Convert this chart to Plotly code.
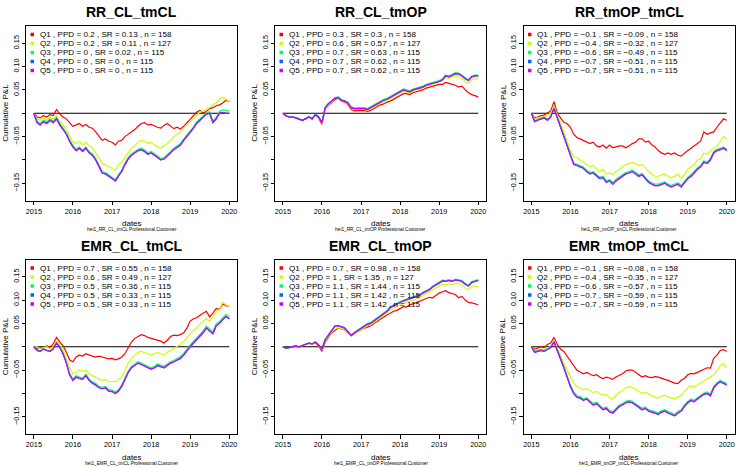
import plotly.graph_objects as go
import pandas as pd

# ---------------- data ----------------
months = pd.date_range("2015-01-01", "2020-01-01", freq="MS").strftime("%Y-%m-%d").tolist()
year_labels = ["2015", "2016", "2017", "2018", "2019", "2020"]
y_tick_vals = [-0.15, -0.10, -0.05, 0.0, 0.05, 0.10, 0.15]
y_tick_text = ["\u22120.15", "", "\u22120.05", "", "0.05", "0.10", "0.15"]

titles = ["RR_CL_tmCL", "RR_CL_tmOP", "RR_tmOP_tmCL", "EMR_CL_tmCL", "EMR_CL_tmOP", "EMR_tmOP_tmCL"]
quantiles = ["Q1", "Q2", "Q3", "Q4", "Q5"]
n_obs = [158, 127, 115, 115, 115]
ppd = [
    ["0.2", "0.2", "0", "0", "0"],
    ["0.3", "0.6", "0.7", "0.7", "0.7"],
    ["\u22120.1", "\u22120.4", "\u22120.6", "\u22120.7", "\u22120.7"],
    ["0.7", "0.6", "0.5", "0.5", "0.5"],
    ["0.7", "1", "1.1", "1.1", "1.1"],
    ["\u22120.1", "\u22120.4", "\u22120.6", "\u22120.7", "\u22120.7"],
]
sr = [
    ["0.13", "0.11", "0.02", "0", "0"],
    ["0.3", "0.57", "0.63", "0.62", "0.62"],
    ["\u22120.09", "\u22120.32", "\u22120.49", "\u22120.51", "\u22120.51"],
    ["0.55", "0.49", "0.36", "0.33", "0.33"],
    ["0.98", "1.35", "1.44", "1.42", "1.42"],
    ["\u22120.08", "\u22120.35", "\u22120.57", "\u22120.59", "\u22120.59"],
]

# Panel 1: RR_CL_tmCL
rr_cl_tmcl_q1 = [0.000, -0.008, -0.010, -0.005, -0.008, -0.003, -0.005, 0.008, -0.002, -0.008,
                 -0.012, -0.020, -0.028, -0.025, -0.022, -0.028, -0.024, -0.030, -0.032, -0.040,
                 -0.050, -0.058, -0.055, -0.060, -0.062, -0.068, -0.060, -0.058, -0.050, -0.045,
                 -0.040, -0.035, -0.028, -0.022, -0.020, -0.025, -0.024, -0.028, -0.030, -0.032,
                 -0.026, -0.022, -0.028, -0.033, -0.030, -0.034, -0.028, -0.020, -0.012, -0.004,
                 0.002, 0.006, 0.000, 0.004, 0.010, 0.012, 0.016, 0.018, 0.022, 0.028, 0.025]
rr_cl_tmcl_q2 = [0.000, -0.012, -0.015, -0.010, -0.015, -0.008, -0.012, -0.005, -0.018, -0.025,
                 -0.035, -0.050, -0.062, -0.065, -0.060, -0.068, -0.062, -0.070, -0.075, -0.085,
                 -0.098, -0.108, -0.110, -0.115, -0.118, -0.122, -0.110, -0.105, -0.095, -0.085,
                 -0.075, -0.070, -0.062, -0.058, -0.060, -0.065, -0.062, -0.068, -0.072, -0.075,
                 -0.070, -0.065, -0.058, -0.050, -0.045, -0.040, -0.032, -0.025, -0.020, -0.012,
                 -0.005, 0.002, 0.005, 0.008, 0.012, 0.018, 0.022, 0.030, 0.035, 0.030, 0.025]
rr_cl_tmcl_q3 = [0.000, -0.017, -0.022, -0.015, -0.019, -0.012, -0.017, -0.009, -0.022, -0.032,
                 -0.042, -0.057, -0.069, -0.077, -0.072, -0.079, -0.072, -0.082, -0.087, -0.097,
                 -0.112, -0.125, -0.127, -0.132, -0.137, -0.142, -0.132, -0.122, -0.107, -0.095,
                 -0.087, -0.082, -0.077, -0.075, -0.079, -0.085, -0.082, -0.087, -0.092, -0.097,
                 -0.095, -0.089, -0.082, -0.075, -0.069, -0.065, -0.055, -0.047, -0.039, -0.029,
                 -0.019, -0.012, -0.005, 0.001, 0.003, -0.017, -0.009, 0.004, 0.007, 0.006, 0.005]
rr_cl_tmcl_q4 = [0.000, -0.020, -0.025, -0.018, -0.022, -0.015, -0.020, -0.012, -0.025, -0.035,
                 -0.045, -0.060, -0.072, -0.080, -0.075, -0.082, -0.075, -0.085, -0.090, -0.100,
                 -0.115, -0.128, -0.130, -0.135, -0.140, -0.145, -0.135, -0.125, -0.110, -0.098,
                 -0.090, -0.085, -0.080, -0.078, -0.082, -0.088, -0.085, -0.090, -0.095, -0.100,
                 -0.098, -0.092, -0.085, -0.078, -0.072, -0.068, -0.058, -0.050, -0.042, -0.032,
                 -0.022, -0.015, -0.008, -0.002, 0.000, -0.020, -0.012, 0.000, 0.002, 0.000, 0.000]
rr_cl_tmcl_q5 = [0.000, -0.020, -0.025, -0.018, -0.022, -0.015, -0.020, -0.012, -0.025, -0.035,
                 -0.045, -0.060, -0.072, -0.080, -0.075, -0.082, -0.075, -0.085, -0.090, -0.100,
                 -0.115, -0.128, -0.130, -0.135, -0.140, -0.145, -0.135, -0.125, -0.110, -0.098,
                 -0.090, -0.085, -0.080, -0.078, -0.082, -0.088, -0.085, -0.090, -0.095, -0.100,
                 -0.098, -0.092, -0.085, -0.078, -0.072, -0.068, -0.058, -0.050, -0.042, -0.032,
                 -0.022, -0.015, -0.008, -0.002, 0.000, -0.020, -0.012, 0.000, 0.002, 0.000, 0.000]

# Panel 2: RR_CL_tmOP
rr_cl_tmop_q1 = [0.000, -0.006, -0.008, -0.008, -0.010, -0.012, -0.015, -0.012, -0.008, -0.012,
                 -0.004, -0.010, -0.024, 0.010, 0.017, 0.023, 0.029, 0.032, 0.026, 0.024,
                 0.018, 0.008, 0.005, 0.005, 0.005, 0.006, 0.004, 0.006, 0.010, 0.014,
                 0.018, 0.020, 0.024, 0.026, 0.030, 0.034, 0.038, 0.042, 0.042, 0.040,
                 0.044, 0.046, 0.048, 0.050, 0.054, 0.056, 0.058, 0.060, 0.062, 0.062,
                 0.066, 0.064, 0.062, 0.060, 0.056, 0.058, 0.050, 0.044, 0.040, 0.038, 0.035]
rr_cl_tmop_q2 = [0.000, -0.006, -0.008, -0.008, -0.010, -0.012, -0.015, -0.012, -0.008, -0.012,
                 -0.003, -0.009, -0.022, 0.011, 0.018, 0.025, 0.031, 0.033, 0.027, 0.025,
                 0.020, 0.010, 0.008, 0.008, 0.008, 0.008, 0.006, 0.010, 0.013, 0.017,
                 0.021, 0.025, 0.027, 0.031, 0.035, 0.039, 0.042, 0.047, 0.045, 0.044,
                 0.048, 0.050, 0.052, 0.054, 0.058, 0.060, 0.062, 0.064, 0.066, 0.069,
                 0.076, 0.074, 0.078, 0.080, 0.078, 0.074, 0.068, 0.064, 0.072, 0.074, 0.073]
rr_cl_tmop_q3 = [0.000, -0.005, -0.007, -0.007, -0.009, -0.011, -0.014, -0.011, -0.007, -0.011,
                 -0.002, -0.007, -0.019, 0.013, 0.021, 0.027, 0.033, 0.035, 0.029, 0.027,
                 0.023, 0.013, 0.011, 0.012, 0.012, 0.012, 0.010, 0.014, 0.018, 0.022,
                 0.026, 0.030, 0.032, 0.036, 0.040, 0.044, 0.047, 0.052, 0.050, 0.048,
                 0.052, 0.054, 0.056, 0.058, 0.062, 0.064, 0.066, 0.068, 0.070, 0.074,
                 0.082, 0.080, 0.084, 0.087, 0.086, 0.082, 0.076, 0.072, 0.080, 0.082, 0.082]
rr_cl_tmop_q4 = [0.000, -0.006, -0.008, -0.008, -0.010, -0.012, -0.015, -0.012, -0.008, -0.012,
                 -0.003, -0.008, -0.020, 0.012, 0.020, 0.026, 0.032, 0.034, 0.028, 0.026,
                 0.022, 0.012, 0.010, 0.010, 0.010, 0.010, 0.008, 0.012, 0.016, 0.020,
                 0.024, 0.028, 0.030, 0.034, 0.038, 0.042, 0.045, 0.050, 0.048, 0.046,
                 0.050, 0.052, 0.054, 0.056, 0.060, 0.062, 0.064, 0.066, 0.068, 0.072,
                 0.080, 0.078, 0.082, 0.085, 0.084, 0.080, 0.074, 0.070, 0.078, 0.080, 0.080]
rr_cl_tmop_q5 = [0.000, -0.006, -0.008, -0.008, -0.010, -0.012, -0.015, -0.012, -0.008, -0.012,
                 -0.003, -0.008, -0.020, 0.012, 0.020, 0.026, 0.032, 0.034, 0.028, 0.026,
                 0.022, 0.012, 0.010, 0.010, 0.010, 0.010, 0.008, 0.012, 0.016, 0.020,
                 0.024, 0.028, 0.030, 0.034, 0.038, 0.042, 0.045, 0.050, 0.048, 0.046,
                 0.050, 0.052, 0.054, 0.056, 0.060, 0.062, 0.064, 0.066, 0.068, 0.072,
                 0.080, 0.078, 0.082, 0.085, 0.084, 0.080, 0.074, 0.070, 0.078, 0.080, 0.080]

# Panel 3: RR_tmOP_tmCL
rr_tmop_tmcl_q1 = [0.000, -0.010, -0.008, -0.005, -0.004, 0.000, 0.005, 0.025, 0.000, -0.010,
                   -0.020, -0.022, -0.030, -0.045, -0.052, -0.055, -0.058, -0.062, -0.065, -0.062,
                   -0.070, -0.072, -0.068, -0.075, -0.068, -0.074, -0.072, -0.070, -0.070, -0.074,
                   -0.070, -0.065, -0.062, -0.055, -0.055, -0.062, -0.060, -0.068, -0.072, -0.080,
                   -0.085, -0.088, -0.085, -0.088, -0.085, -0.090, -0.092, -0.085, -0.080, -0.075,
                   -0.070, -0.065, -0.060, -0.040, -0.045, -0.042, -0.040, -0.030, -0.020, -0.012, -0.015]
rr_tmop_tmcl_q2 = [0.000, -0.012, -0.010, -0.008, -0.006, -0.005, 0.000, 0.015, -0.005, -0.020,
                   -0.040, -0.060, -0.080, -0.092, -0.095, -0.100, -0.105, -0.110, -0.115, -0.112,
                   -0.118, -0.125, -0.120, -0.130, -0.128, -0.132, -0.125, -0.120, -0.115, -0.110,
                   -0.108, -0.105, -0.108, -0.112, -0.110, -0.118, -0.125, -0.130, -0.135, -0.135,
                   -0.132, -0.130, -0.135, -0.138, -0.135, -0.130, -0.140, -0.132, -0.120, -0.115,
                   -0.110, -0.100, -0.098, -0.085, -0.088, -0.080, -0.075, -0.070, -0.060, -0.050, -0.055]
rr_tmop_tmcl_q3 = [0.000, -0.016, -0.013, -0.010, -0.008, -0.013, -0.006, 0.012, -0.008, -0.027,
                   -0.047, -0.067, -0.087, -0.107, -0.109, -0.112, -0.115, -0.122, -0.127, -0.125,
                   -0.132, -0.137, -0.135, -0.145, -0.142, -0.149, -0.142, -0.137, -0.132, -0.127,
                   -0.125, -0.122, -0.127, -0.132, -0.129, -0.137, -0.145, -0.149, -0.152, -0.152,
                   -0.149, -0.147, -0.152, -0.155, -0.152, -0.149, -0.155, -0.147, -0.137, -0.132,
                   -0.125, -0.117, -0.112, -0.102, -0.105, -0.097, -0.082, -0.077, -0.075, -0.072, -0.077]
rr_tmop_tmcl_q4 = [0.000, -0.018, -0.015, -0.012, -0.010, -0.015, -0.008, 0.010, -0.010, -0.030,
                   -0.050, -0.070, -0.090, -0.110, -0.112, -0.115, -0.118, -0.125, -0.130, -0.128,
                   -0.135, -0.140, -0.138, -0.148, -0.145, -0.152, -0.145, -0.140, -0.135, -0.130,
                   -0.128, -0.125, -0.130, -0.135, -0.132, -0.140, -0.148, -0.152, -0.155, -0.155,
                   -0.152, -0.150, -0.155, -0.158, -0.155, -0.152, -0.158, -0.150, -0.140, -0.135,
                   -0.128, -0.120, -0.115, -0.105, -0.108, -0.100, -0.085, -0.080, -0.078, -0.075, -0.080]
rr_tmop_tmcl_q5 = [0.000, -0.018, -0.015, -0.012, -0.010, -0.015, -0.008, 0.010, -0.010, -0.030,
                   -0.050, -0.070, -0.090, -0.110, -0.112, -0.115, -0.118, -0.125, -0.130, -0.128,
                   -0.135, -0.140, -0.138, -0.148, -0.145, -0.152, -0.145, -0.140, -0.135, -0.130,
                   -0.128, -0.125, -0.130, -0.135, -0.132, -0.140, -0.148, -0.152, -0.155, -0.155,
                   -0.152, -0.150, -0.155, -0.158, -0.155, -0.152, -0.158, -0.150, -0.140, -0.135,
                   -0.128, -0.120, -0.115, -0.105, -0.108, -0.100, -0.085, -0.080, -0.078, -0.075, -0.080]

# Panel 4: EMR_CL_tmCL
emr_cl_tmcl_q1 = [0.000, -0.005, -0.002, -0.004, 0.002, -0.002, 0.006, 0.020, 0.010, 0.002,
                  -0.012, -0.028, -0.032, -0.022, -0.018, -0.020, -0.015, -0.018, -0.020, -0.022,
                  -0.020, -0.022, -0.024, -0.026, -0.025, -0.028, -0.026, -0.022, -0.015, -0.002,
                  0.010, 0.018, 0.022, 0.026, 0.024, 0.020, 0.018, 0.016, 0.014, 0.012,
                  0.008, 0.014, 0.022, 0.025, 0.024, 0.026, 0.030, 0.040, 0.055, 0.060,
                  0.062, 0.068, 0.072, 0.076, 0.064, 0.072, 0.082, 0.080, 0.092, 0.088, 0.086]
emr_cl_tmcl_q2 = [0.000, 0.000, -0.005, -0.002, 0.000, -0.005, 0.000, 0.012, 0.005, -0.005,
                  -0.025, -0.045, -0.058, -0.055, -0.050, -0.052, -0.050, -0.058, -0.062, -0.065,
                  -0.070, -0.072, -0.070, -0.075, -0.074, -0.075, -0.070, -0.065, -0.050, -0.035,
                  -0.025, -0.018, -0.012, -0.010, -0.012, -0.015, -0.018, -0.015, -0.012, -0.015,
                  -0.018, -0.012, -0.008, -0.005, 0.000, 0.005, 0.012, 0.020, 0.028, 0.035,
                  0.040, 0.048, 0.055, 0.060, 0.055, 0.065, 0.075, 0.080, 0.095, 0.090, 0.085]
emr_cl_tmcl_q3 = [0.000, -0.007, -0.009, -0.004, -0.007, -0.009, -0.004, 0.009, 0.000, -0.013,
                  -0.033, -0.057, -0.069, -0.062, -0.065, -0.067, -0.059, -0.069, -0.075, -0.079,
                  -0.085, -0.087, -0.085, -0.092, -0.093, -0.097, -0.092, -0.082, -0.067, -0.052,
                  -0.042, -0.037, -0.032, -0.035, -0.039, -0.042, -0.045, -0.042, -0.037, -0.039,
                  -0.042, -0.037, -0.032, -0.029, -0.025, -0.021, -0.014, -0.004, 0.004, 0.012,
                  0.019, 0.026, 0.034, 0.044, 0.039, 0.032, 0.049, 0.054, 0.062, 0.069, 0.065]
emr_cl_tmcl_q4 = [0.000, -0.008, -0.010, -0.005, -0.008, -0.010, -0.005, 0.008, -0.002, -0.015,
                  -0.035, -0.060, -0.072, -0.065, -0.068, -0.070, -0.062, -0.072, -0.078, -0.082,
                  -0.088, -0.090, -0.088, -0.095, -0.096, -0.100, -0.095, -0.085, -0.070, -0.055,
                  -0.045, -0.040, -0.035, -0.038, -0.042, -0.045, -0.048, -0.045, -0.040, -0.042,
                  -0.045, -0.040, -0.035, -0.032, -0.028, -0.025, -0.018, -0.008, 0.000, 0.008,
                  0.015, 0.022, 0.030, 0.040, 0.035, 0.028, 0.045, 0.050, 0.058, 0.065, 0.060]
emr_cl_tmcl_q5 = [0.000, -0.008, -0.010, -0.005, -0.008, -0.010, -0.005, 0.008, -0.002, -0.015,
                  -0.035, -0.060, -0.072, -0.065, -0.068, -0.070, -0.062, -0.072, -0.078, -0.082,
                  -0.088, -0.090, -0.088, -0.095, -0.096, -0.100, -0.095, -0.085, -0.070, -0.055,
                  -0.045, -0.040, -0.035, -0.038, -0.042, -0.045, -0.048, -0.045, -0.040, -0.042,
                  -0.045, -0.040, -0.035, -0.032, -0.028, -0.025, -0.018, -0.008, 0.000, 0.008,
                  0.015, 0.022, 0.030, 0.040, 0.035, 0.028, 0.045, 0.050, 0.058, 0.065, 0.060]

# Panel 5: EMR_CL_tmOP
emr_cl_tmop_q1 = [0.000, -0.003, -0.002, 0.000, 0.002, 0.000, 0.003, 0.005, 0.007, 0.005,
                  0.008, 0.002, -0.010, 0.010, 0.020, 0.030, 0.035, 0.040, 0.038, 0.036,
                  0.030, 0.024, 0.028, 0.032, 0.036, 0.040, 0.042, 0.045, 0.050, 0.055,
                  0.060, 0.064, 0.068, 0.072, 0.076, 0.078, 0.082, 0.086, 0.085, 0.090,
                  0.092, 0.095, 0.098, 0.100, 0.104, 0.106, 0.105, 0.110, 0.115, 0.118,
                  0.120, 0.116, 0.114, 0.112, 0.105, 0.108, 0.100, 0.095, 0.094, 0.092, 0.090]
emr_cl_tmop_q2 = [0.000, -0.003, -0.002, 0.000, 0.002, 0.000, 0.003, 0.005, 0.007, 0.005,
                  0.009, 0.003, -0.007, 0.012, 0.022, 0.032, 0.038, 0.041, 0.038, 0.036,
                  0.031, 0.024, 0.027, 0.032, 0.037, 0.041, 0.045, 0.047, 0.052, 0.057,
                  0.062, 0.067, 0.072, 0.079, 0.083, 0.087, 0.090, 0.093, 0.095, 0.098,
                  0.101, 0.103, 0.105, 0.110, 0.113, 0.117, 0.122, 0.126, 0.130, 0.134,
                  0.133, 0.135, 0.133, 0.136, 0.135, 0.132, 0.126, 0.122, 0.130, 0.130, 0.128]
emr_cl_tmop_q3 = [0.000, -0.003, -0.002, 0.000, 0.002, 0.000, 0.003, 0.005, 0.008, 0.006,
                  0.010, 0.004, -0.005, 0.016, 0.026, 0.036, 0.045, 0.046, 0.043, 0.041,
                  0.033, 0.025, 0.031, 0.036, 0.042, 0.046, 0.050, 0.052, 0.057, 0.062,
                  0.067, 0.072, 0.078, 0.086, 0.090, 0.094, 0.097, 0.100, 0.102, 0.105,
                  0.108, 0.110, 0.112, 0.117, 0.120, 0.124, 0.130, 0.134, 0.138, 0.143,
                  0.142, 0.144, 0.142, 0.145, 0.144, 0.142, 0.136, 0.132, 0.140, 0.142, 0.144]
emr_cl_tmop_q4 = [0.000, -0.003, -0.002, 0.000, 0.002, 0.000, 0.003, 0.005, 0.008, 0.006,
                  0.010, 0.004, -0.005, 0.015, 0.025, 0.035, 0.044, 0.045, 0.042, 0.040,
                  0.032, 0.024, 0.030, 0.035, 0.040, 0.044, 0.048, 0.050, 0.055, 0.060,
                  0.065, 0.070, 0.076, 0.084, 0.088, 0.092, 0.095, 0.098, 0.100, 0.103,
                  0.106, 0.108, 0.110, 0.115, 0.118, 0.122, 0.128, 0.132, 0.136, 0.141,
                  0.140, 0.142, 0.140, 0.143, 0.142, 0.140, 0.134, 0.130, 0.138, 0.140, 0.142]
emr_cl_tmop_q5 = [0.000, -0.003, -0.002, 0.000, 0.002, 0.000, 0.003, 0.005, 0.008, 0.006,
                  0.010, 0.004, -0.005, 0.015, 0.025, 0.035, 0.044, 0.045, 0.042, 0.040,
                  0.032, 0.024, 0.030, 0.035, 0.040, 0.044, 0.048, 0.050, 0.055, 0.060,
                  0.065, 0.070, 0.076, 0.084, 0.088, 0.092, 0.095, 0.098, 0.100, 0.103,
                  0.106, 0.108, 0.110, 0.115, 0.118, 0.122, 0.128, 0.132, 0.136, 0.141,
                  0.140, 0.142, 0.140, 0.143, 0.142, 0.140, 0.134, 0.130, 0.138, 0.140, 0.142]

# Panel 6: EMR_tmOP_tmCL
emr_tmop_tmcl_q1 = [0.000, -0.005, -0.003, 0.000, -0.002, 0.005, 0.008, 0.020, 0.005, -0.005,
                    -0.010, -0.020, -0.030, -0.040, -0.050, -0.054, -0.058, -0.055, -0.058, -0.062,
                    -0.060, -0.065, -0.068, -0.065, -0.067, -0.070, -0.065, -0.062, -0.058, -0.052,
                    -0.050, -0.050, -0.055, -0.060, -0.065, -0.062, -0.065, -0.066, -0.064, -0.065,
                    -0.068, -0.070, -0.072, -0.075, -0.078, -0.079, -0.072, -0.068, -0.060, -0.057,
                    -0.058, -0.055, -0.052, -0.048, -0.045, -0.046, -0.025, -0.018, -0.008, -0.006, -0.010]
emr_tmop_tmcl_q2 = [0.000, -0.008, -0.006, -0.004, -0.005, -0.002, 0.000, 0.012, -0.005, -0.020,
                    -0.035, -0.050, -0.065, -0.078, -0.085, -0.088, -0.092, -0.090, -0.094, -0.098,
                    -0.096, -0.100, -0.104, -0.102, -0.110, -0.112, -0.104, -0.098, -0.094, -0.088,
                    -0.085, -0.088, -0.090, -0.096, -0.100, -0.098, -0.102, -0.105, -0.108, -0.110,
                    -0.106, -0.104, -0.108, -0.110, -0.112, -0.108, -0.104, -0.096, -0.088, -0.084,
                    -0.086, -0.082, -0.078, -0.074, -0.070, -0.066, -0.060, -0.052, -0.040, -0.036, -0.046]
emr_tmop_tmcl_q3 = [0.000, -0.010, -0.008, -0.006, -0.008, -0.003, 0.000, 0.012, -0.006, -0.022,
                    -0.042, -0.062, -0.082, -0.097, -0.105, -0.107, -0.112, -0.109, -0.115, -0.122,
                    -0.119, -0.125, -0.132, -0.129, -0.137, -0.139, -0.132, -0.125, -0.122, -0.117,
                    -0.115, -0.117, -0.122, -0.127, -0.132, -0.129, -0.135, -0.137, -0.139, -0.142,
                    -0.137, -0.135, -0.139, -0.142, -0.145, -0.139, -0.135, -0.125, -0.117, -0.112,
                    -0.115, -0.109, -0.105, -0.099, -0.097, -0.102, -0.085, -0.077, -0.072, -0.075, -0.079]
emr_tmop_tmcl_q4 = [0.000, -0.012, -0.010, -0.008, -0.010, -0.005, -0.002, 0.010, -0.008, -0.025,
                    -0.045, -0.065, -0.085, -0.100, -0.108, -0.110, -0.115, -0.112, -0.118, -0.125,
                    -0.122, -0.128, -0.135, -0.132, -0.140, -0.142, -0.135, -0.128, -0.125, -0.120,
                    -0.118, -0.120, -0.125, -0.130, -0.135, -0.132, -0.138, -0.140, -0.142, -0.145,
                    -0.140, -0.138, -0.142, -0.145, -0.148, -0.142, -0.138, -0.128, -0.120, -0.115,
                    -0.118, -0.112, -0.108, -0.102, -0.100, -0.105, -0.088, -0.080, -0.075, -0.078, -0.082]
emr_tmop_tmcl_q5 = [0.000, -0.012, -0.010, -0.008, -0.010, -0.005, -0.002, 0.010, -0.008, -0.025,
                    -0.045, -0.065, -0.085, -0.100, -0.108, -0.110, -0.115, -0.112, -0.118, -0.125,
                    -0.122, -0.128, -0.135, -0.132, -0.140, -0.142, -0.135, -0.128, -0.125, -0.120,
                    -0.118, -0.120, -0.125, -0.130, -0.135, -0.132, -0.138, -0.140, -0.142, -0.145,
                    -0.140, -0.138, -0.142, -0.145, -0.148, -0.142, -0.138, -0.128, -0.120, -0.115,
                    -0.118, -0.112, -0.108, -0.102, -0.100, -0.105, -0.088, -0.080, -0.075, -0.078, -0.082]

panel_series = [
    [rr_cl_tmcl_q1, rr_cl_tmcl_q2, rr_cl_tmcl_q3, rr_cl_tmcl_q4, rr_cl_tmcl_q5],
    [rr_cl_tmop_q1, rr_cl_tmop_q2, rr_cl_tmop_q3, rr_cl_tmop_q4, rr_cl_tmop_q5],
    [rr_tmop_tmcl_q1, rr_tmop_tmcl_q2, rr_tmop_tmcl_q3, rr_tmop_tmcl_q4, rr_tmop_tmcl_q5],
    [emr_cl_tmcl_q1, emr_cl_tmcl_q2, emr_cl_tmcl_q3, emr_cl_tmcl_q4, emr_cl_tmcl_q5],
    [emr_cl_tmop_q1, emr_cl_tmop_q2, emr_cl_tmop_q3, emr_cl_tmop_q4, emr_cl_tmop_q5],
    [emr_tmop_tmcl_q1, emr_tmop_tmcl_q2, emr_tmop_tmcl_q3, emr_tmop_tmcl_q4, emr_tmop_tmcl_q5],
]

# ---------------- styling / layout ----------------
W, H = 747, 467
FONT = "Liberation Sans, Arial, Helvetica, sans-serif"
colors = ["#FF0000", "#CCFF00", "#00FF66", "#0066FF", "#CC00FF"]
box_left = [26, 275, 523.5]
box_top = [26, 259.5]
box_w, box_h = 211, 174.5
x_range = ["2014-10-20", "2020-03-13"]
y_range = [-0.187, 0.187]


def px(x):
    return x / W


def py(y):
    return 1 - y / H


fig = go.Figure()
annotations = []
shapes = []

for p in range(6):
    r, c = divmod(p, 3)
    xa = "x" if p == 0 else f"x{p + 1}"
    ya = "y" if p == 0 else f"y{p + 1}"
    L, T = box_left[c], box_top[r]
    R, B = L + box_w, T + box_h

    # zero reference line across the data range
    fig.add_trace(go.Scatter(x=[months[0], months[-1]], y=[0, 0], mode="lines",
                             line=dict(color="black", width=1), xaxis=xa, yaxis=ya,
                             hoverinfo="skip"))
    for k in range(5):
        fig.add_trace(go.Scatter(x=months, y=panel_series[p][k], mode="lines",
                                 line=dict(color=colors[k], width=1.2),
                                 xaxis=xa, yaxis=ya, name=quantiles[k]))

    axkey_x = "xaxis" if p == 0 else f"xaxis{p + 1}"
    axkey_y = "yaxis" if p == 0 else f"yaxis{p + 1}"
    fig.layout[axkey_x] = dict(
        domain=[px(L), px(R)], anchor=ya, type="date", range=x_range,
        tickvals=[f"{yl}-01-01" for yl in year_labels], ticktext=year_labels,
        showline=True, mirror=True, linecolor="black", linewidth=1,
        ticks="outside", ticklen=3.5, tickcolor="black", tickwidth=1,
        showgrid=False, zeroline=False, tickfont=dict(family=FONT, size=7.3, color="black"),
    )
    fig.layout[axkey_y] = dict(
        domain=[py(B), py(T)], anchor=xa, range=y_range,
        tickvals=y_tick_vals, ticktext=y_tick_text, tickangle=-90,
        showline=True, mirror=True, linecolor="black", linewidth=1,
        ticks="outside", ticklen=3.5, tickcolor="black", tickwidth=1,
        showgrid=False, zeroline=False, tickfont=dict(family=FONT, size=7.3, color="black"),
    )

    cx = (L + R) / 2
    # title
    annotations.append(dict(text=f"<b>{titles[p]}</b>", x=px(cx), y=py(T - 13.5), xref="paper",
                            yref="paper", showarrow=False, xanchor="center", yanchor="middle",
                            font=dict(family=FONT, size=14, color="black")))
    # axis titles
    annotations.append(dict(text="dates", x=px(cx), y=py(B + 23), xref="paper", yref="paper",
                            showarrow=False, xanchor="center", yanchor="middle",
                            font=dict(family=FONT, size=8, color="black")))
    annotations.append(dict(text=f"het1_{titles[p]} Professional.Customer", x=px(cx), y=py(B + 29.5),
                            xref="paper", yref="paper", showarrow=False, xanchor="center",
                            yanchor="middle", font=dict(family=FONT, size=4.7, color="black")))
    annotations.append(dict(text="Cumulative P&L", x=px(L - 20.5), y=py((T + B) / 2), xref="paper",
                            yref="paper", showarrow=False, textangle=-90, xanchor="center",
                            yanchor="middle", font=dict(family=FONT, size=8, color="black")))
    # legend
    for k in range(5):
        ly = T + 8.5 + 9 * k
        label = f"{quantiles[k]} , PPD = {ppd[p][k]} , SR = {sr[p][k]} , n = {n_obs[k]}"
        annotations.append(dict(text=label, x=px(L + 11.5), y=py(ly), xref="paper", yref="paper",
                                showarrow=False, xanchor="left", yanchor="middle",
                                font=dict(family=FONT, size=8.1, color="black")))
        shapes.append(dict(type="rect", xref="paper", yref="paper",
                           x0=px(L + 4.5), x1=px(L + 8), y0=py(ly + 1.75), y1=py(ly - 1.75),
                           fillcolor=colors[k], line=dict(width=0)))

fig.update_layout(
    width=W, height=H, margin=dict(l=0, r=0, t=0, b=0),
    paper_bgcolor="white", plot_bgcolor="white", showlegend=False,
    annotations=annotations, shapes=shapes,
    font=dict(family=FONT, color="black"),
)

fig.write_html("out.html", config={"displayModeBar": False},
               post_script="document.body.style.margin='0px';document.body.style.overflow='hidden';")
